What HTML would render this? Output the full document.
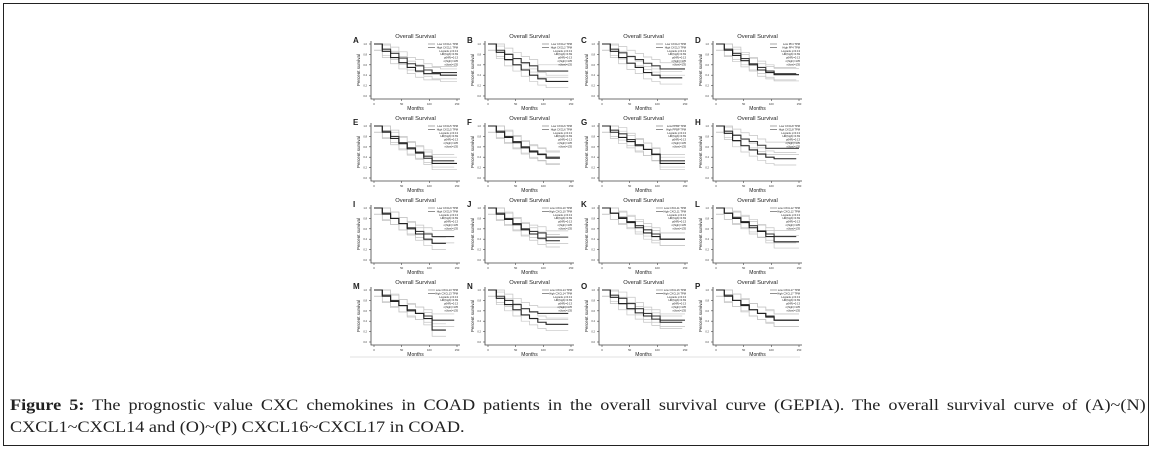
<!DOCTYPE html>
<html><head><meta charset="utf-8">
<style>
html,body{margin:0;padding:0;background:#fff;}
#frame{position:absolute;left:3px;top:3px;width:1146px;height:443px;border:1px solid #222;box-sizing:border-box;}
#fig{position:absolute;left:0;top:0;}
#cap{position:absolute;left:10px;top:395px;width:985px;font-family:"Liberation Serif",serif;font-size:15.8px;line-height:22px;color:#222;transform:scaleX(1.153);transform-origin:0 0;}
#cap .l1{text-align:justify;text-align-last:justify;white-space:nowrap;}
</style></head>
<body>
<div id="frame"></div>
<svg id="fig" width="1155" height="453"></svg>
<div id="cap"><div class="l1"><b>Figure 5:</b> The prognostic value CXC chemokines in COAD patients in the overall survival curve (GEPIA). The overall survival curve of (A)~(N)</div><div>CXCL1~CXCL14 and (O)~(P) CXCL16~CXCL17 in COAD.</div></div>
<script>
const months=[0,15,30,45,60,75,90,105,120,135,150];
const panelLetters=["A","B","C","D","E","F","G","H","I","J","K","L","M","N","O","P"];
const geneNames=["CXCL1","CXCL2","CXCL3","PF4","CXCL5","CXCL6","PPBP","CXCL8","CXCL9","CXCL10","CXCL11","CXCL12","CXCL13","CXCL14","CXCL16","CXCL17"];
const highSeries=[
[1,.9,.82,.73,.62,.58,.5,.45,.45,.45,.45],
[1,.88,.8,.72,.64,.58,.48,.48,.48,.48,null],
[1,.9,.83,.76,.7,.63,.58,.52,.52,.52,.52],
[1,.9,.82,.72,.62,.55,.48,.43,.43,.43,null],
[1,.9,.8,.68,.58,.5,.42,.33,.33,.33,null],
[1,.9,.8,.7,.6,.52,.46,.4,.4,null,null],
[1,.92,.85,.74,.64,.55,.46,.33,.33,.33,.33],
[1,.9,.82,.75,.7,.63,.57,.57,.57,.57,.57],
[1,.88,.8,.7,.62,.55,.5,.45,.45,.45,null],
[1,.9,.8,.7,.6,.55,.52,.44,.44,.44,null],
[1,.9,.82,.74,.66,.58,.5,.4,.4,.4,.4],
[1,.9,.82,.74,.66,.56,.5,.45,.45,.45,null],
[1,.9,.8,.7,.62,.55,.5,.42,.42,.42,null],
[1,.88,.8,.72,.64,.58,.55,.55,.55,.55,null],
[1,.9,.84,.74,.64,.55,.5,.42,.42,.42,.42],
[1,.9,.8,.72,.62,.55,.5,.42,.42,.42,.42]];
const lowSeries=[
[1,.86,.74,.64,.55,.48,.43,.43,.4,.4,.4],
[1,.84,.7,.6,.5,.4,.33,.28,.28,.28,null],
[1,.86,.74,.63,.55,.45,.4,.35,.35,.35,null],
[1,.88,.78,.68,.6,.5,.45,.41,.41,.41,.41],
[1,.88,.76,.66,.56,.48,.38,.28,.28,.28,.28],
[1,.88,.78,.68,.58,.5,.45,.38,.38,null,null],
[1,.88,.78,.7,.62,.55,.45,.28,.28,.28,.28],
[1,.86,.72,.62,.54,.46,.4,.37,.37,.37,null],
[1,.9,.8,.7,.6,.5,.4,.32,.32,null,null],
[1,.88,.78,.68,.58,.5,.42,.37,.37,null,null],
[1,.9,.8,.72,.62,.52,.45,.4,.4,.4,.4],
[1,.9,.8,.72,.62,.55,.45,.35,.35,.35,.35],
[1,.88,.78,.7,.6,.55,.45,.23,.23,null,null],
[1,.84,.72,.62,.52,.45,.38,.34,.34,.34,null],
[1,.86,.74,.64,.56,.5,.44,.38,.38,.38,null],
[1,.88,.8,.7,.62,.55,.48,.42,.42,.42,.42]];
const ciWidth=[0.12,0.12,0.12,0.12,0.12,0.12,0.12,0.12,0.12,0.12,0.12,0.12,0.12,0.12,0.12,0.12];
const yTicks=[0,0.2,0.4,0.6,0.8,1.0];
const xTicks=[0,50,100,150];

const svg=document.getElementById('fig');
const NS='http://www.w3.org/2000/svg';
function mk(tag,attrs,parent){const e=document.createElementNS(NS,tag);for(const k in attrs)e.setAttribute(k,attrs[k]);(parent||svg).appendChild(e);return e;}
function txt(x,y,s,size,parent,extra){const t=mk('text',Object.assign({x:x,y:y,'font-size':size,'font-family':'Liberation Sans, sans-serif',fill:'#333'},extra||{}),parent);t.textContent=s;return t;}

const PW=89,PH=58;
panelLetters.forEach((L,i)=>{
  const col=i%4,row=Math.floor(i/4);
  const lx=356+col*114,ly=39+row*82;
  const g=mk('g',{});
  
  
  const px=lx+15,py=ly+2;
  const sx=m=>px+3+m/150*(PW-6);
  const sy=v=>py+3+(1-v)*(PH-6);
  const lt=txt(lx-3,ly+4,L,8,g,{'font-weight':'bold',fill:'#222'});
  
  const tt=txt(px+PW/2,py-3,'Overall Survival',5.8,g,{'text-anchor':'middle',fill:'#222'});
  
  const ax=mk('path',{d:`M${px},${py}V${py+PH}H${px+PW}`,fill:'none',stroke:'#444','stroke-width':0.8},g);
  
  yTicks.forEach(v=>{mk('line',{x1:px-2,x2:px,y1:sy(v),y2:sy(v),stroke:'#444','stroke-width':0.6},g);txt(px-4,sy(v)+1,v.toFixed(1),2.6,g,{'text-anchor':'end'});});
  xTicks.forEach(v=>{mk('line',{x1:sx(v),x2:sx(v),y1:py+PH,y2:py+PH+2,stroke:'#444','stroke-width':0.6},g);txt(sx(v),py+PH+6,String(v),2.8,g,{'text-anchor':'middle'});});
  const mt=txt(px+PW/2,py+PH+11,'Months',5,g,{'text-anchor':'middle',fill:'#222'});
  
  const yt=txt(0,0,'Percent survival',4.5,g,{'text-anchor':'middle',transform:`translate(${px-11},${py+PH/2}) rotate(-90)`,fill:'#222'});
  
  function stepPath(vals,off){let d='';let prev=null;
    vals.forEach((v,k)=>{if(v===null)return;let vv=Math.max(0,Math.min(1,v+off));
      if(prev===null)d+=`M${sx(months[k])},${sy(vv)}`;else d+=`H${sx(months[k])}V${sy(vv)}`;prev=k;});
    if(prev!==null)d+=`H${sx(Math.min(150,months[prev]+10))}`;return d;}
  [highSeries[i],lowSeries[i]].forEach((s,si)=>{
    const c1=mk('path',{d:stepPath(s,ciWidth[i]),fill:'none',stroke:'#c4c4c4','stroke-width':0.7},g);
    
    const c2=mk('path',{d:stepPath(s,-ciWidth[i]),fill:'none',stroke:'#c4c4c4','stroke-width':0.7},g);
    
  });
  [highSeries[i],lowSeries[i]].forEach((s,si)=>{
    const p=mk('path',{d:stepPath(s,0),fill:'none',stroke:si?'#222':'#3a3a3a','stroke-width':1.1},g);
    
    
  });
  const leg=['Low '+geneNames[i]+' TPM','High '+geneNames[i]+' TPM','Logrank p=0.13','HR(high)=0.69','p(HR)=0.13','n(high)=135','n(low)=135'];
  leg.forEach((s,k)=>{const t=txt(px+PW-2,py+4+k*3.4,s,2.7,g,{'text-anchor':'end',fill:'#222'});
    });
  mk('line',{x1:px+PW-32,x2:px+PW-25,y1:py+3,y2:py+3,stroke:'#555','stroke-width':0.5},g);
  mk('line',{x1:px+PW-32,x2:px+PW-25,y1:py+6.4,y2:py+6.4,stroke:'#222','stroke-width':0.5},g);
});
const sep=mk('line',{x1:350,x2:800,y1:357,y2:357,stroke:'#e2e2e2','stroke-width':1});


</script>
</body></html>
